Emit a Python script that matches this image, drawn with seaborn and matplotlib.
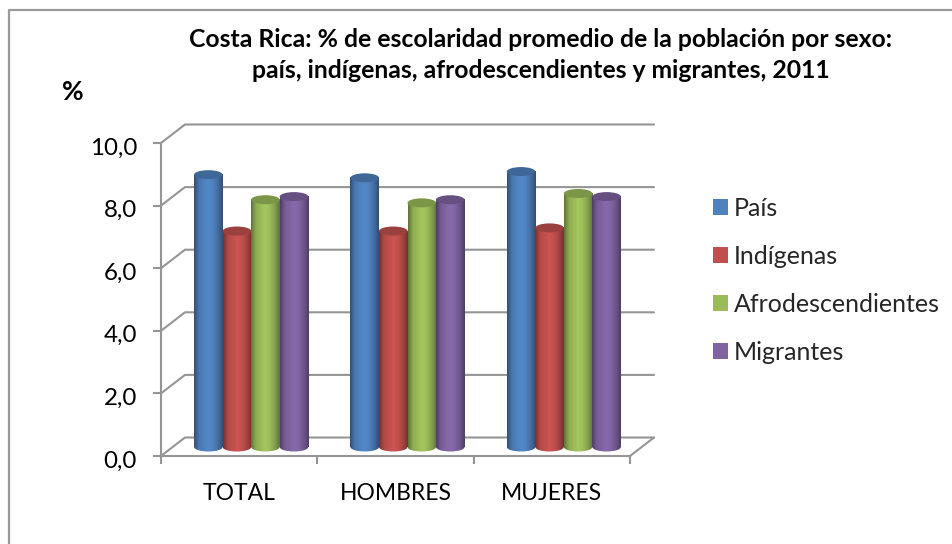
import matplotlib
matplotlib.use("Agg")
import matplotlib.pyplot as plt
import pandas as pd
import numpy as np
import seaborn as sns
from matplotlib.colors import LinearSegmentedColormap, to_rgb
from matplotlib.lines import Line2D
from matplotlib.patches import Ellipse
from matplotlib.transforms import ScaledTranslation

categories = ["TOTAL", "HOMBRES", "MUJERES"]
series_names = ["País", "Indígenas", "Afrodescendientes", "Migrantes"]
pais = [8.7, 8.6, 8.8]
indigenas = [6.9, 6.9, 7.0]
afro = [7.9, 7.8, 8.1]
migrantes = [8.0, 7.9, 8.0]
y_ticks = [0, 2, 4, 6, 8, 10]
y_labels = ["0,0", "2,0", "4,0", "6,0", "8,0", "10,0"]
colors = ["#4f81bd", "#c0504d", "#9bbb59", "#8064a2"]
title = "Costa Rica: % de escolaridad promedio de la población por sexo:\npaís, indígenas, afrodescendientes y migrantes, 2011"

W, H = 952, 544
GRID = "#959595"
DEPTH_X, DEPTH_Y = 24, 18.5  # back wall offset in px
BAR_DX, BAR_DY = 12, 9       # bars stand halfway into the floor

sns.set_theme(style="white")
plt.rcParams["font.family"] = ["Lato", "DejaVu Sans"]

df = pd.DataFrame({"cat": categories * 4,
                   "serie": np.repeat(series_names, 3),
                   "valor": pais + indigenas + afro + migrantes})


def px_rect(left, right, top, bottom):
    return [left / W, 1 - bottom / H, (right - left) / W, (bottom - top) / H]


fig = plt.figure(figsize=(W / 100, H / 100), dpi=100)

# chart frame, only top and left are visible in the picture
fig.add_artist(Line2D([8.5 / W, 8.5 / W, 1], [0, 1 - 9.5 / H, 1 - 9.5 / H], color="#999999", lw=1.6))

# axes, walls
ax = fig.add_axes(px_rect(161, 630, 143, 456))
ax.set_xlim(-0.5, 2.5)
ax.set_ylim(0, 10)
dx = DEPTH_X / (469 / 3)
dy = DEPTH_Y / 31.3
for y in y_ticks:
    ax.plot([-0.5, -0.5 + dx, 2.5 + dx], [y, y + dy, y + dy], color=GRID, lw=1.5, clip_on=False, zorder=1)
ax.plot([2.5, 2.5 + dx], [0, dy], color=GRID, lw=1.5, clip_on=False, zorder=1)

sns.despine(ax=ax, top=True, right=True)
for s in ["left", "bottom"]:
    ax.spines[s].set_color(GRID)
    ax.spines[s].set_linewidth(1.5)
ax.set_yticks(y_ticks)
ax.set_yticklabels(y_labels, fontsize=17.4, color="black")
ax.set_xticks([-0.5, 0.5, 1.5, 2.5])
ax.set_xticklabels([])
ax.tick_params(axis="both", length=5.8, width=1.5, color=GRID, left=True, bottom=True)
ax.tick_params(axis="y", pad=11.5)
ax.patch.set_alpha(0)
# labels sit a little under their ticks
for lab in ax.get_yticklabels():
    lab.set_transform(lab.get_transform() + ScaledTranslation(0, -3 / 100, fig.dpi_scale_trans))
for i, c in enumerate(categories):
    ax.text(i, -1.2, c, ha="center", va="center", fontsize=16.5, color="black")

# bars in a second axes, moved into the floor
bx = fig.add_axes(px_rect(161 + BAR_DX, 630 + BAR_DX, 143 - BAR_DY, 456 - BAR_DY))
bx.patch.set_alpha(0)
sns.barplot(data=df, x="cat", y="valor", hue="serie", order=categories, hue_order=series_names,
            palette=colors, width=0.73, gap=0, saturation=1, ax=bx, legend=False)

ell_h = 9 / 31.3
for cont, col in zip(bx.containers, colors):
    base = np.array(to_rgb(col))
    dark = base * 0.62
    light = np.clip(base * 1.06, 0, 1)
    cmap = LinearSegmentedColormap.from_list("cyl", [dark, base * 0.92, base, light, base, base * 0.85, dark])
    grad = np.linspace(0, 1, 64).reshape(1, -1)
    for bar in cont:
        x0, w, h = bar.get_x(), bar.get_width(), bar.get_height()
        cx = x0 + w / 2
        bar.set_visible(False)
        # rounded foot of the cylinder, hangs below the axes
        foot = Ellipse((cx, 0), w, ell_h, fc="none", ec="none", clip_on=False)
        bx.add_patch(foot)
        im = bx.imshow(grad, extent=(x0, x0 + w, -ell_h, ell_h), aspect="auto", cmap=cmap, zorder=3)
        im.set_clip_box(fig.bbox)
        im.set_clip_path(foot)
        bx.imshow(grad, extent=(x0, x0 + w, 0, h), aspect="auto", cmap=cmap, zorder=3)
        bx.add_patch(Ellipse((cx, h), w, ell_h, fc=base * 0.8, ec="none", zorder=3.1))

bx.set_xlim(-0.5, 2.5)
bx.set_ylim(0, 10)
bx.axis("off")

# legend, proxy squares in the same colours
handles = [plt.Rectangle((0, 0), 1, 1, fc=c, ec="none") for c in colors]
fig.legend(handles, series_names, loc="upper left", bbox_to_anchor=(713 / W, 1 - 196.5 / H), frameon=False,
           fontsize=18, handlelength=0.6, handleheight=0.6, handletextpad=0.24, labelspacing=1.0,
           borderpad=0, borderaxespad=0)

fig.text(540.5 / W, 1 - 55 / H, title, ha="center", va="center", fontsize=17.8, fontweight="bold",
         color="black", linespacing=1.4)
fig.text(73 / W, 1 - 92 / H, "%", ha="center", va="center", fontsize=19, fontweight="bold", color="black")

fig.savefig("out.png", dpi=100)
